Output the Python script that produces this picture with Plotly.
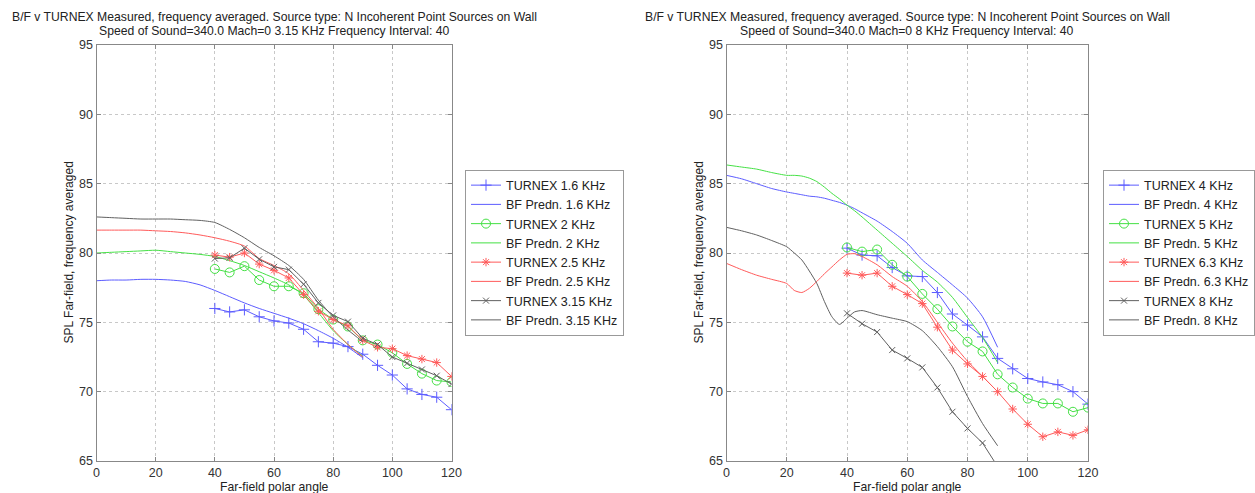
import plotly.graph_objects as go

# ---------------- data ----------------
angles_meas = [40, 45, 50, 55, 60, 65, 70, 75, 80, 85, 90, 95, 100, 105, 110, 115, 120]

# left panel (measured)
turnex_1_6 = [76.0, 75.75, 75.9, 75.4, 75.1, 74.95, 74.5, 73.6, 73.5, 73.25, 72.7, 71.9, 71.2, 70.2, 69.8, 69.6, 68.7]
turnex_2 = [78.85, 78.6, 79.05, 78.05, 77.6, 77.6, 77.1, 75.95, 75.2, 74.7, 73.7, 73.4, 72.8, 72.0, 71.3, 70.8, 70.7]
turnex_2_5 = [79.85, 79.7, 80.0, 79.2, 78.75, 78.2, 77.0, 75.8, 75.2, 74.75, 73.7, 73.2, 73.1, 72.6, 72.35, 72.1, 71.1]
turnex_3_15 = [79.6, 79.65, 80.35, 79.55, 79.0, 78.8, 77.75, 76.4, 75.5, 75.05, 73.85, 73.4, 72.5, 72.05, 71.6, 71.15, 70.55]

# left panel (predictions)
angles_bf_l = [0, 5, 10, 15, 20, 25, 30, 35, 40, 45, 50, 55, 60, 65, 70, 75, 80, 85, 90]
bf_1_6 = [78.0, 78.05, 78.05, 78.1, 78.1, 78.05, 77.95, 77.7, 77.3, 76.85, 76.4, 76.0, 75.65, 75.3, 74.9, 74.4, 73.85, 73.2, 72.45]
bf_2 = [80.0, 80.05, 80.1, 80.15, 80.2, 80.1, 80.0, 79.9, 79.75, 79.45, 79.1, 78.65, 78.2, 77.7, 76.95, 75.7, 74.4, 73.4, 72.55]
bf_2_5 = [81.65, 81.65, 81.65, 81.65, 81.6, 81.55, 81.45, 81.3, 81.1, 80.85, 80.5, 79.6, 79.1, 78.5, 77.3, 76.0, 74.5, 73.4, 72.5]
bf_3_15 = [82.6, 82.55, 82.5, 82.45, 82.45, 82.45, 82.4, 82.35, 82.2, 81.7, 81.1, 80.4, 79.8, 79.1, 78.1, 76.6, 75.4, 74.45, 73.6]

# right panel (measured)
turnex_4 = [80.35, 79.85, 79.8, 78.95, 78.35, 78.3, 77.15, 75.6, 74.8, 73.95, 72.4, 71.65, 70.95, 70.7, 70.5, 70.0, 69.1]
turnex_5 = [80.4, 80.1, 80.25, 79.15, 78.3, 77.05, 75.95, 74.7, 73.6, 72.9, 71.25, 70.3, 69.5, 69.15, 69.15, 68.55, 68.85]
turnex_6_3 = [78.55, 78.4, 78.55, 77.6, 77.0, 76.35, 74.65, 73.0, 72.0, 71.1, 70.0, 68.75, 67.65, 66.75, 67.1, 66.85, 67.25]
angles_meas_8 = [40, 45, 50, 55, 60, 65, 70, 75, 80, 85, 90]
turnex_8 = [75.65, 74.9, 74.3, 73.0, 72.4, 71.75, 70.3, 68.55, 67.35, 66.3, 64.6]

# right panel (predictions)
angles_bf_r = [0, 5, 10, 15, 20, 22.5, 25, 27.5, 30, 32.5, 35, 37.5, 40, 42.5, 45, 50, 55, 60, 65, 70, 75, 80, 85, 90]
bf_4 = [85.6, 85.35, 85.0, 84.65, 84.4, 84.3, 84.2, 84.1, 84.05, 83.95, 83.8, 83.65, 83.45, 83.2, 82.9, 82.3, 81.55, 80.7, 79.5, 78.6, 77.7, 76.75, 75.4, 73.2]
bf_5 = [86.35, 86.2, 86.05, 85.8, 85.6, 85.6, 85.55, 85.4, 85.15, 84.75, 84.3, 83.9, 83.45, 83.05, 82.6, 81.65, 80.7, 79.75, 78.75, 77.9, 76.8, 75.35, 73.9, 72.1]
bf_6_3 = [79.25, 78.8, 78.4, 78.1, 77.8, 77.3, 77.15, 77.45, 77.95, 78.5, 79.0, 79.5, 79.9, 79.95, 79.75, 79.15, 78.3, 77.6, 76.5, 75.0, 73.5, 72.2, 71.1, 70.0]
bf_8 = [81.85, 81.6, 81.3, 80.9, 80.45, 80.0, 79.5, 78.7, 77.8, 76.5, 75.4, 74.85, 75.3, 75.75, 75.85, 75.55, 75.3, 75.05, 74.4, 73.25, 71.8, 69.65, 67.7, 66.1]

left_labels = ["TURNEX 1.6 KHz", "BF Predn. 1.6 KHz", "TURNEX 2 KHz", "BF Predn. 2 KHz",
               "TURNEX 2.5 KHz", "BF Predn. 2.5 KHz", "TURNEX 3.15 KHz", "BF Predn. 3.15 KHz"]
right_labels = ["TURNEX 4 KHz", "BF Predn. 4 KHz", "TURNEX 5 KHz", "BF Predn. 5 KHz",
                "TURNEX 6.3 KHz", "BF Predn. 6.3 KHz", "TURNEX 8 KHz", "BF Predn. 8 KHz"]
x_ticks = [0, 20, 40, 60, 80, 100, 120]
y_ticks = [65, 70, 75, 80, 85, 90, 95]

# ---------------- styles ----------------
BLUE = "#5c5cff"
GREEN = "#44e044"
RED = "#ff5a5a"
GREY = "#606060"
colors = [BLUE, GREEN, RED, GREY]
symbols = ["cross-thin", "circle-open", "asterisk", "x-thin"]
sizes = [8, 9, 7, 6]
FONT = "Liberation Sans, Arial, sans-serif"

W, H = 1255, 493
fig = go.Figure()

def add_panel(meas_x, meas_list, bf_x, bf_list, labels, xa, ya, legend):
    for i in range(4):
        mx = meas_x[i] if isinstance(meas_x[0], list) else meas_x
        fig.add_trace(go.Scatter(
            x=mx, y=meas_list[i], mode="lines+markers", name=labels[2 * i],
            line=dict(color=colors[i], width=1),
            marker=dict(symbol=symbols[i], size=sizes[i], color=colors[i],
                        line=dict(color=colors[i], width=1)),
            xaxis=xa, yaxis=ya, legend=legend))
        fig.add_trace(go.Scatter(
            x=bf_x, y=bf_list[i], mode="lines", name=labels[2 * i + 1],
            line=dict(color=colors[i], width=1, shape="spline", smoothing=0.6),
            xaxis=xa, yaxis=ya, legend=legend))

add_panel(angles_meas, [turnex_1_6, turnex_2, turnex_2_5, turnex_3_15],
          angles_bf_l, [bf_1_6, bf_2, bf_2_5, bf_3_15], left_labels, "x", "y", "legend")
add_panel([angles_meas, angles_meas, angles_meas, angles_meas_8],
          [turnex_4, turnex_5, turnex_6_3, turnex_8],
          angles_bf_r, [bf_4, bf_5, bf_6_3, bf_8], right_labels, "x2", "y2", "legend2")

# pixel-based layout
lx0, lx1 = 96.5, 451.5
rx0, rx1 = 726.5, 1088
ytop, ybot = 45, 461

def px(x):
    return x / W

def py(y):
    return 1 - y / H

axis_common = dict(
    showline=True, linecolor="#888888", linewidth=1, mirror="allticks",
    ticks="inside", ticklen=4, tickcolor="#888888", automargin=False,
    showgrid=True, gridcolor="#c8c8c8", griddash="dot", gridwidth=1,
    zeroline=False, tickfont=dict(family=FONT, size=12.5, color="#333333"),
)

legend_common = dict(xanchor="left", yanchor="middle",
                     bordercolor="#999999", borderwidth=1, bgcolor="white",
                     font=dict(family=FONT, size=12.5, color="#222222"), tracegroupgap=0)

fig.update_layout(
    width=W, height=H, margin=dict(l=0, r=0, t=0, b=0, pad=0, autoexpand=False),
    paper_bgcolor="white", plot_bgcolor="white",
    font=dict(family=FONT, size=12.5, color="#222222"),
    xaxis=dict(domain=[px(lx0), px(lx1)], range=[0, 120], tickvals=x_ticks, anchor="y", **axis_common),
    yaxis=dict(domain=[py(ybot), py(ytop)], range=[65, 95], tickvals=y_ticks, anchor="x", **axis_common),
    xaxis2=dict(domain=[px(rx0), px(rx1)], range=[0, 120], tickvals=x_ticks, anchor="y2", **axis_common),
    yaxis2=dict(domain=[py(ybot), py(ytop)], range=[65, 95], tickvals=y_ticks, anchor="x2", **axis_common),
    legend=dict(x=px(465), y=py(252.5), **legend_common),
    legend2=dict(x=px(1103), y=py(252.5), **legend_common),
    showlegend=True,
)

title1 = "B/F v TURNEX Measured, frequency averaged. Source type: N Incoherent Point Sources on Wall"
sub_left = "Speed of Sound=340.0 Mach=0 3.15 KHz Frequency Interval: 40"
sub_right = "Speed of Sound=340.0 Mach=0 8 KHz Frequency Interval: 40"

for cx, sub in [((lx0 + lx1) / 2, sub_left), ((rx0 + rx1) / 2, sub_right)]:
    fig.add_annotation(x=px(cx), y=py(17), xref="paper", yref="paper", text=title1,
                       showarrow=False, xanchor="center", yanchor="middle",
                       font=dict(family=FONT, size=12.2, color="#222222"))
    fig.add_annotation(x=px(cx), y=py(31), xref="paper", yref="paper", text=sub,
                       showarrow=False, xanchor="center", yanchor="middle",
                       font=dict(family=FONT, size=12.2, color="#222222"))
    fig.add_annotation(x=px(cx), y=py(487), xref="paper", yref="paper", text="Far-field polar angle",
                       showarrow=False, xanchor="center", yanchor="middle",
                       font=dict(family=FONT, size=12.2, color="#222222"))

for ax in [lx0, rx0]:
    fig.add_annotation(x=px(ax - 28), y=py((ytop + ybot) / 2), xref="paper", yref="paper",
                       text="SPL Far-field, frequency averaged", textangle=-90,
                       showarrow=False, xanchor="center", yanchor="middle",
                       font=dict(family=FONT, size=12, color="#222222"))

fig.write_html("out.html")
